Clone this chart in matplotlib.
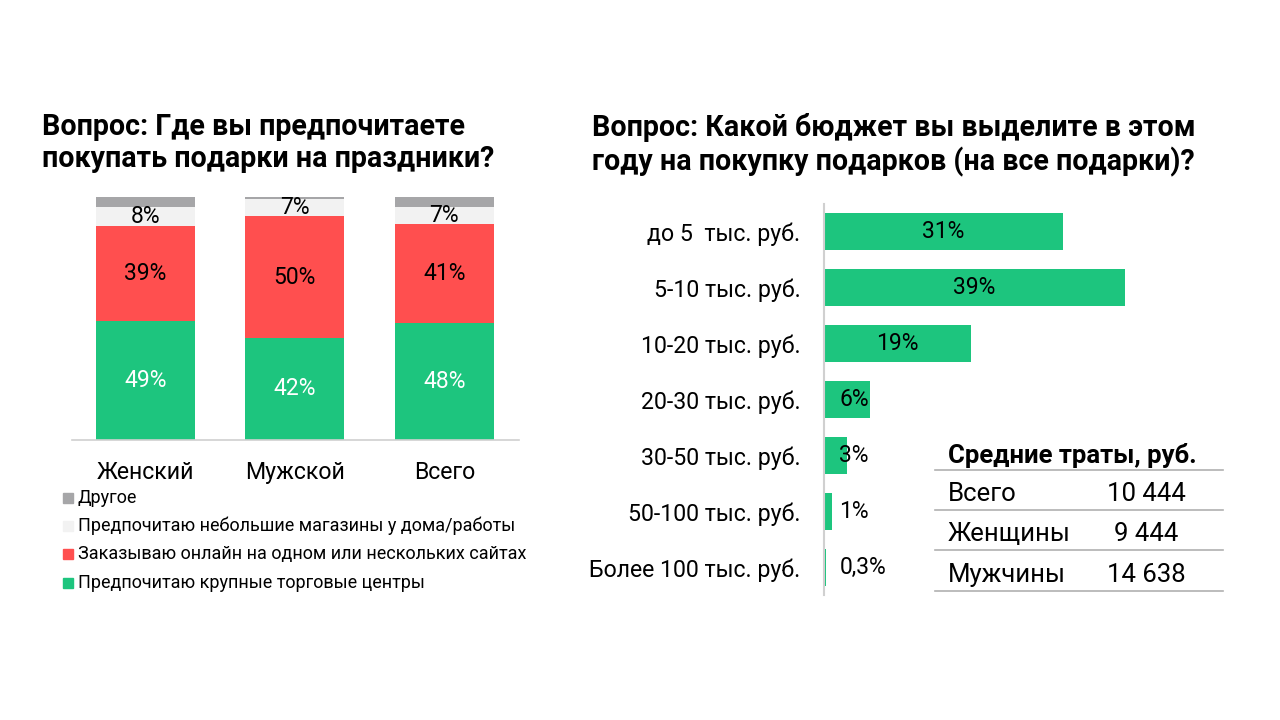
import matplotlib
matplotlib.use("Agg")
import matplotlib.pyplot as plt
from matplotlib.lines import Line2D

plt.rcParams['font.family'] = ['Roboto', 'DejaVu Sans']

# ---------------- data ----------------
left_title = "Вопрос: Где вы предпочитаете\nпокупать подарки на праздники?"
right_title = "Вопрос: Какой бюджет вы выделите в этом\nгоду на покупку подарков (на все подарки)?"

groups = ["Женский", "Мужской", "Всего"]
series_names = ["Предпочитаю крупные торговые центры",
                "Заказываю онлайн на одном или нескольких сайтах",
                "Предпочитаю небольшие магазины у дома/работы",
                "Другое"]
big_malls = [49, 42, 48]
online = [39, 50, 41]
small_shops = [8, 7, 7]
other = [4, 1, 4]

budget_cats = ["до 5  тыс. руб.", "5-10 тыс. руб.", "10-20 тыс. руб.", "20-30 тыс. руб.",
               "30-50 тыс. руб.", "50-100 тыс. руб.", "Более 100 тыс. руб."]
budget_vals = [31, 39, 19, 6, 3, 1, 0.3]
budget_labels = ["31%", "39%", "19%", "6%", "3%", "1%", "0,3%"]

table_title = "Средние траты, руб."
table_rows = ["Всего", "Женщины", "Мужчины"]
table_vals = ["10 444", "9 444", "14 638"]

# ---------------- style ----------------
GREEN = "#1DC57E"
RED = "#FF4F4F"
LIGHT = "#F2F2F2"
GRAY = "#A6A6A8"
colors = [GREEN, RED, LIGHT, GRAY]

W, H = 1280, 720
fig = plt.figure(figsize=(W / 100, H / 100), dpi=100)
fig.patch.set_facecolor("white")


def px_rect(x0, y0, x1, y1):
    return [x0 / W, 1 - y1 / H, (x1 - x0) / W, (y1 - y0) / H]


def fx(x):
    return x / W


def fy(y):
    return 1 - y / H


# ---------------- titles ----------------
fig.text(fx(42), fy(113), left_title, fontsize=20.6, fontweight="bold", va="top", ha="left",
         linespacing=1.2)
fig.text(fx(592), fy(113), right_title, fontsize=20.6, fontweight="bold", va="top", ha="left",
         linespacing=1.2)

# ---------------- left stacked bars ----------------
axL = fig.add_axes(px_rect(72, 197, 519, 440))
x = list(range(len(groups)))
stack = [big_malls, online, small_shops, other]
bottoms = [0] * len(groups)
bar_w = 0.665
for si, (vals, col) in enumerate(zip(stack, colors)):
    axL.bar(x, vals, bottom=bottoms, width=bar_w, color=col, edgecolor="none", zorder=2)
    if si < 3:
        for i, v in enumerate(vals):
            yc = bottoms[i] + v / 2
            tc = "white" if si == 0 else "black"
            axL.text(x[i], yc, f"{v}%", ha="center", va="center", fontsize=16.5, color=tc, zorder=3)
    bottoms = [b + v for b, v in zip(bottoms, vals)]

axL.set_xlim(-0.49, 2.5)
axL.set_ylim(0, 100)
for s in ["top", "right", "left"]:
    axL.spines[s].set_visible(False)
axL.spines["bottom"].set_color("#D0D0D0")
axL.spines["bottom"].set_linewidth(1.2)
axL.set_yticks([])
axL.set_xticks(x)
axL.set_xticklabels(groups, fontsize=16.7)
axL.tick_params(axis="x", length=0, pad=15)

# legend (manual, top to bottom: reverse of stack order)
leg_y = [498, 526, 554, 583]
for yy, name, col in zip(leg_y, series_names[::-1], colors[::-1]):
    fig.patches.append(matplotlib.patches.Rectangle((fx(63), fy(yy + 5)), 10 / W, 10 / H,
                                                    transform=fig.transFigure, color=col,
                                                    figure=fig))
    fig.text(fx(78), fy(yy), name, fontsize=13, va="center", ha="left")

# ---------------- right horizontal bars ----------------
px_per_pct = 7.72
axR_left, axR_right = 824, 1230
axR = fig.add_axes(px_rect(axR_left, 204, axR_right, 595))
yb = list(range(len(budget_cats)))
axR.barh(yb, budget_vals, height=0.66, color=GREEN, edgecolor="none", zorder=2)
axR.set_xlim(0, (axR_right - axR_left) / px_per_pct)
axR.set_ylim(len(budget_cats) - 0.51, -0.49)
for i, (v, lab) in enumerate(zip(budget_vals, budget_labels)):
    if v >= 10:
        axR.text(v / 2, i, lab, ha="center", va="center", fontsize=16.5, color="black", zorder=3)
    else:
        axR.text(2.0, i, lab, ha="left", va="center", fontsize=16.5, color="black", zorder=3)
for s in ["top", "right", "bottom"]:
    axR.spines[s].set_visible(False)
axR.spines["left"].set_color("#D0D0D0")
axR.spines["left"].set_linewidth(1.5)
axR.set_xticks([])
axR.set_yticks(yb)
axR.set_yticklabels(budget_cats, fontsize=16.7)
axR.tick_params(axis="y", length=0, pad=17)

# ---------------- table ----------------
fig.text(fx(948), fy(455), table_title, fontsize=18.5, fontweight="bold", va="center", ha="left")
line_ys = [470, 510, 550, 591]
for ly in line_ys:
    fig.lines.append(Line2D([fx(935), fx(1223)], [fy(ly), fy(ly)], transform=fig.transFigure,
                            color="#B0B0B0", linewidth=1.2))
row_ys = [494, 534, 575]
for ry, name, val in zip(row_ys, table_rows, table_vals):
    fig.text(fx(948), fy(ry), name, fontsize=18.5, va="center", ha="left")
    fig.text(fx(1146), fy(ry), val, fontsize=18.5, va="center", ha="center")

fig.savefig("out.png", dpi=100, facecolor="white")
